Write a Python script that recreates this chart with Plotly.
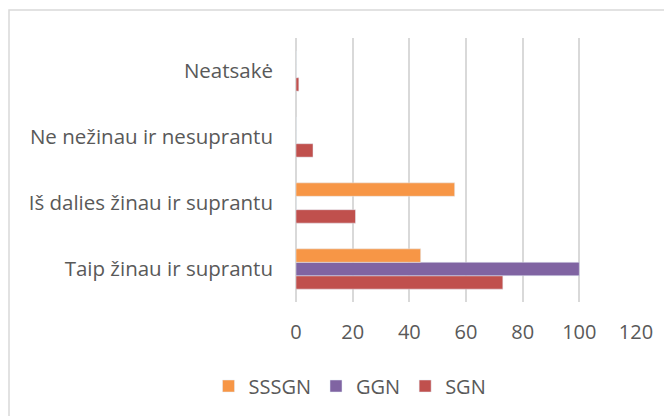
import plotly.graph_objects as go

categories = ["Taip žinau ir suprantu", "Iš dalies žinau ir suprantu",
              "Ne nežinau ir nesuprantu", "Neatsakė"]
sssgn = [44, 56, 0, 0]
ggn = [100, 0, 0, 0]
sgn = [73, 21, 6, 1]
x_ticks = [0, 20, 40, 60, 80, 100, 120]

# page body has an 8px margin; figure sized to fit the window
OFF = 8
W, H = 672 - OFF, 416 - OFF
L, T = 296 - OFF, 38 - OFF
pw, ph = 340, 264
R, B = W - L - pw, H - T - ph

font_family = "Open Sans, Lato, sans-serif"
txt = "#595959"

fig = go.Figure()
fig.add_trace(go.Bar(y=categories, x=sgn, name="SGN", orientation="h",
                     marker=dict(color="#C0504D")))
fig.add_trace(go.Bar(y=categories, x=ggn, name="GGN", orientation="h",
                     marker=dict(color="#8064A2")))
fig.add_trace(go.Bar(y=categories, x=sssgn, name="SSSGN", orientation="h",
                     marker=dict(color="#F79646")))

def px_x(p):
    return (p - OFF - L) / pw

def px_y(p):
    return (H - B - (p - OFF)) / ph

fig.add_shape(type="rect", xref="paper", yref="paper",
              x0=px_x(9), x1=px_x(720), y0=px_y(460), y1=px_y(10),
              line=dict(color="#d9d9d9", width=1.5), fillcolor="rgba(0,0,0,0)",
              layer="below")

fig.update_layout(
    width=W, height=H,
    margin=dict(l=L, r=R, t=T, b=B, pad=0),
    paper_bgcolor="white", plot_bgcolor="white",
    barmode="group", bargap=0.39, bargroupgap=0,
    font=dict(family=font_family, size=20, color=txt),
    showlegend=True,
    legend=dict(orientation="h", traceorder="reversed",
                xref="container", yref="container",
                x=(350 - OFF) / W, xanchor="center",
                y=1 - (386 - OFF) / H, yanchor="middle",
                font=dict(size=20, color=txt), itemwidth=30),
    xaxis=dict(range=[0, 120], tickvals=x_ticks, showgrid=True,
               gridcolor="#d9d9d9", gridwidth=1.5, zeroline=True,
               zerolinecolor="#d9d9d9", zerolinewidth=1.5, showline=False,
               ticks="", ticklabelstandoff=16,
               tickfont=dict(size=20, color=txt), fixedrange=True),
    yaxis=dict(categoryorder="array", categoryarray=categories,
               showgrid=False, zeroline=False, showline=False, ticks="",
               ticklabelstandoff=22, tickfont=dict(size=20.5, color=txt),
               fixedrange=True),
)

fig.write_html("out.html")
